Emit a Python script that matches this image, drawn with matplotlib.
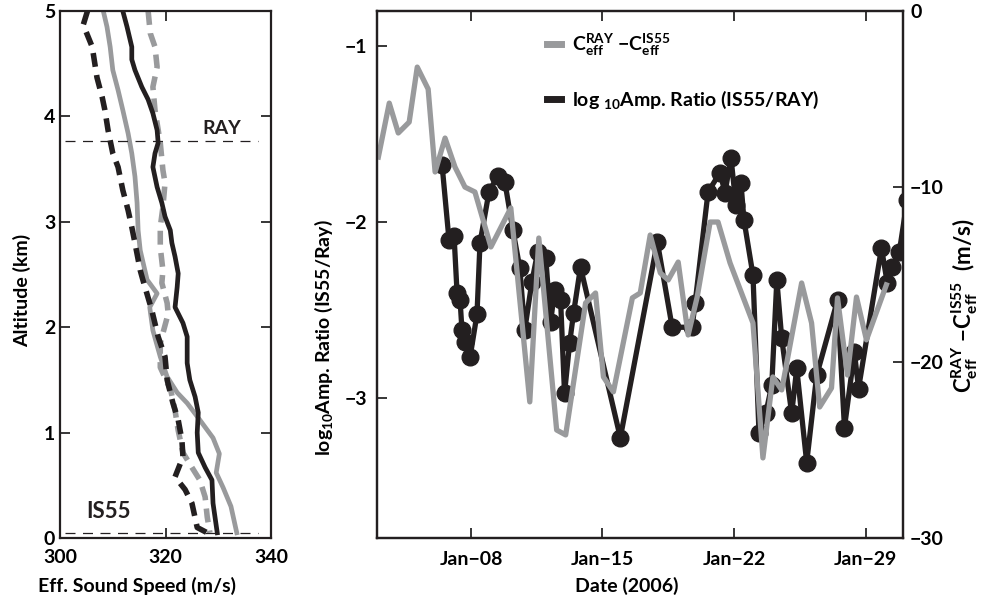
import numpy as np
import pandas as pd
import matplotlib
matplotlib.use('Agg')
import matplotlib.pyplot as plt
import matplotlib.dates as mdates
from matplotlib.lines import Line2D

# ---- left panel: effective sound speed profiles ----
# black solid
bs_speed = [311.9, 312.7, 313.6, 313.6, 314.2, 315.5, 316.7, 317.6, 318.4, 318.6, 318.0, 317.6, 318.4, 319.3, 319.9, 320.9, 321.2,
            321.8, 322.4, 322.2, 321.8, 323.3, 324.1, 324.1, 324.6, 325.6, 326.2, 326.0, 326.2, 327.5, 328.8, 329.0, 329.8]
bs_alt = [5.0, 4.85, 4.66, 4.54, 4.44, 4.28, 4.16, 4.03, 3.87, 3.75, 3.65, 3.52, 3.33, 3.18, 3.05, 2.92, 2.80,
          2.67, 2.51, 2.38, 2.19, 2.04, 1.91, 1.66, 1.50, 1.34, 1.19, 1.00, 0.81, 0.67, 0.55, 0.33, 0.05]
# black dashed
bd_speed = [305.2, 304.4, 306.1, 307.0, 308.0, 308.5, 309.1, 310.0, 311.0, 311.9, 312.9, 313.6, 314.2, 315.2,
            315.7, 317.4, 318.6, 319.9, 320.3, 321.4, 322.4, 323.1, 323.3, 321.8, 323.7, 325.0, 326.0, 327.9]
bd_alt = [5.0, 4.87, 4.66, 4.37, 4.18, 4.06, 3.87, 3.65, 3.52, 3.30, 3.11, 2.95, 2.80, 2.54,
          2.45, 2.16, 1.91, 1.72, 1.50, 1.28, 1.12, 0.93, 0.77, 0.58, 0.46, 0.33, 0.10, 0.05]
# gray solid
gs_speed = [308.2, 308.9, 309.5, 310.0, 311.0, 311.9, 312.9, 313.6, 314.2, 314.6, 314.8, 315.2, 316.5, 318.4,
            317.0, 317.6, 319.0, 320.3, 322.2, 324.1, 326.5, 329.0, 330.2, 329.6, 330.9, 332.4, 333.5]
gs_alt = [5.0, 4.85, 4.66, 4.44, 4.25, 4.06, 3.84, 3.65, 3.43, 3.18, 2.92, 2.73, 2.45, 2.32,
          2.19, 1.97, 1.72, 1.53, 1.38, 1.28, 1.12, 0.95, 0.80, 0.62, 0.48, 0.30, 0.05]
# gray dashed
gd_speed = [316.7, 317.1, 318.0, 318.4, 317.6, 318.0, 319.0, 319.5, 319.9, 319.5, 319.0, 319.0, 319.5, 319.3,
            320.3, 320.5, 319.0, 319.0, 321.0, 321.8, 322.4, 323.3, 325.0, 326.5, 327.5, 327.9, 328.4]
gd_alt = [5.0, 4.79, 4.66, 4.47, 4.28, 4.06, 3.75, 3.49, 3.37, 3.14, 2.95, 2.76, 2.54, 2.42,
          2.23, 2.13, 1.85, 1.62, 1.40, 1.21, 1.02, 0.81, 0.67, 0.55, 0.39, 0.20, 0.05]

ray_alt = 3.77
is55_alt = 0.05
ref_span = [301.0, 337.5]

# ---- right panel: time series, day of January 2006 ----
gray_day = [3.07, 3.65, 4.13, 4.71, 5.14, 5.72, 6.09, 6.62, 7.15, 7.68, 8.21, 9.06, 10.12, 11.13, 11.61,
            12.56, 13.04, 14.10, 14.63, 15.05, 15.58, 16.59, 17.01, 17.54, 18.08, 18.50, 19.03, 19.56, 20.04, 20.73,
            21.15, 21.79, 23.01, 23.54, 24.07, 24.54, 25.60, 26.13, 26.56, 27.19, 27.51, 28.04, 28.52, 29.05, 30.11]
gray_val = [-8.31, -5.24, -6.94, -6.32, -3.19, -4.44, -9.16, -7.23, -8.88, -10.02, -10.30, -13.43, -11.21, -22.25, -12.92,
            -23.85, -24.13, -16.62, -16.05, -20.83, -21.68, -16.33, -16.05, -12.75, -14.91, -15.31, -14.29, -18.44, -16.28, -12.01,
            -12.01, -14.34, -17.76, -25.44, -20.83, -21.57, -15.48, -17.76, -22.54, -21.46, -16.33, -20.72, -16.28, -18.72, -15.59]

black_day = [6.46, 6.83, 7.10, 7.26, 7.42, 7.52, 7.68, 7.95, 8.32, 8.48, 8.96, 9.43, 9.80, 10.23, 10.60,
             10.86, 11.24, 11.55, 11.98, 12.24, 12.45, 12.77, 12.98, 13.25, 13.46, 13.83, 15.95, 17.92, 18.71, 19.77,
             19.93, 20.62, 21.26, 21.52, 21.84, 22.10, 22.37, 22.53, 23.01, 23.33, 23.70, 24.01, 24.28, 24.54, 25.07,
             25.34, 25.87, 26.40, 27.51, 27.88, 28.41, 28.63, 29.85, 30.16, 30.43, 30.80, 31.22]
black_val = [-1.674, -2.103, -2.08, -2.406, -2.446, -2.617, -2.686, -2.771, -2.526, -2.12, -1.829, -1.737, -1.771, -2.046, -2.263,
             -2.617, -2.343, -2.171, -2.206, -2.571, -2.389, -2.446, -2.977, -2.691, -2.52, -2.257, -3.229, -2.114, -2.6, -2.6,
             -2.463, -1.829, -1.72, -1.834, -1.634, -1.903, -1.777, -1.989, -2.303, -3.2, -3.086, -2.931, -2.331, -2.663, -3.091,
             -2.834, -3.371, -2.874, -2.446, -3.171, -2.743, -2.949, -2.149, -2.349, -2.257, -2.171, -1.874]

date_ticks = ['2006-01-08', '2006-01-15', '2006-01-22', '2006-01-29']
date_lim = ['2006-01-03', '2006-01-31']


def to_dates(days):
    return pd.Timestamp('2006-01-01') + pd.to_timedelta(np.array(days) - 1, unit='D')


BLACK = '#231f20'
GRAY = '#999a9c'

plt.rcParams['font.family'] = ['Lato', 'DejaVu Sans']
plt.rcParams['font.weight'] = 'bold'
plt.rcParams['axes.labelweight'] = 'bold'
plt.rcParams['mathtext.default'] = 'regular'
plt.rcParams['axes.linewidth'] = 1.6
plt.rcParams['axes.edgecolor'] = BLACK
plt.rcParams['xtick.direction'] = 'in'
plt.rcParams['ytick.direction'] = 'in'
plt.rcParams['xtick.major.size'] = 7
plt.rcParams['ytick.major.size'] = 7
plt.rcParams['xtick.major.width'] = 1.1
plt.rcParams['ytick.major.width'] = 1.1
plt.rcParams['xtick.labelsize'] = 14
plt.rcParams['ytick.labelsize'] = 14

fig = plt.figure(figsize=(9.86, 6.05), dpi=100)

# left panel
ax0 = fig.add_axes([0.0609, 0.1107, 0.214, 0.871])
ax0.plot(gs_speed, gs_alt, color=GRAY, lw=3.4, solid_joinstyle='round')
ax0.plot(gd_speed, gd_alt, color=GRAY, lw=4, dashes=(2.5, 1.5))
ax0.plot(bd_speed, bd_alt, color=BLACK, lw=4, dashes=(2.5, 1.5))
ax0.plot(bs_speed, bs_alt, color=BLACK, lw=3.4, solid_joinstyle='round')
ax0.plot(ref_span, [ray_alt, ray_alt], color=BLACK, lw=0.9, dashes=(8, 6))
ax0.plot(ref_span, [is55_alt, is55_alt], color=BLACK, lw=0.9, dashes=(8, 6))
ax0.text(330.7, 3.89, 'RAY', fontsize=14, ha='center', va='center', color=BLACK)
ax0.text(305.0, 0.25, 'IS55', fontsize=16, ha='left', va='center', color=BLACK)
ax0.set_xlim(300, 340)
ax0.set_ylim(0, 5)
ax0.set_xticks([300, 320, 340])
ax0.set_yticks([0, 1, 2, 3, 4, 5])
ax0.tick_params(top=True, right=True)
ax0.tick_params(axis='x', pad=8)
ax0.set_xlabel('Eff. Sound Speed (m/s)', fontsize=14)
ax0.set_ylabel('Altitude (km)', fontsize=14)
ax0.xaxis.set_label_coords(0.365, -0.074)
ax0.yaxis.set_label_coords(-0.135, 0.47)

# right panel
ax1 = fig.add_axes([0.3824, 0.1107, 0.5335, 0.871])
ax1.plot(to_dates(black_day), black_val, color=BLACK, lw=3.8, marker='o', ms=12,
         mfc=BLACK, mec=BLACK)
ax1.set_ylim(-3.8, -0.8)
ax1.set_yticks([-3, -2, -1])
ax1.set_xlim(pd.to_datetime(date_lim[0]), pd.to_datetime(date_lim[1]))
ax1.set_xticks(pd.to_datetime(date_ticks))
ax1.xaxis.set_major_formatter(mdates.DateFormatter('%b\u2212%d'))
ax1.tick_params(top=True, right=True)
ax1.tick_params(axis='x', pad=9)
ax1.tick_params(axis='y', pad=7)
ax1.set_xlabel('Date (2006)', fontsize=14)
ax1.set_ylabel('log$_{10}$Amp. Ratio (IS55/Ray)', fontsize=14)
ax1.xaxis.set_label_coords(0.475, -0.074)
ax1.yaxis.set_label_coords(-0.08, 0.38)

ax2 = ax1.twinx()
ax2.plot(to_dates(gray_day), gray_val, color=GRAY, lw=3.8)
ax2.set_ylim(-30, 0)
ax2.set_yticks([-30, -20, -10, 0])
ax2.tick_params(axis='y', pad=5)
ax2.set_ylabel('C$^{RAY}_{eff}$ \u2212C$^{IS55}_{eff}$  (m/s)', fontsize=16)
ax2.yaxis.set_label_coords(1.089, 0.44)

handles = [Line2D([0], [0], color=GRAY, lw=5),
           Line2D([0], [0], color=BLACK, lw=5)]
labels = ['C$^{RAY}_{eff}$ \u2212C$^{IS55}_{eff}$', 'log $_{10}$Amp. Ratio (IS55/RAY)']
ax2.legend(handles, labels, loc='upper left', bbox_to_anchor=(0.29, 0.995), frameon=False,
           fontsize=14, handlelength=0.7, handletextpad=0.6, labelspacing=1.6)

fig.savefig('out.png', dpi=100)
